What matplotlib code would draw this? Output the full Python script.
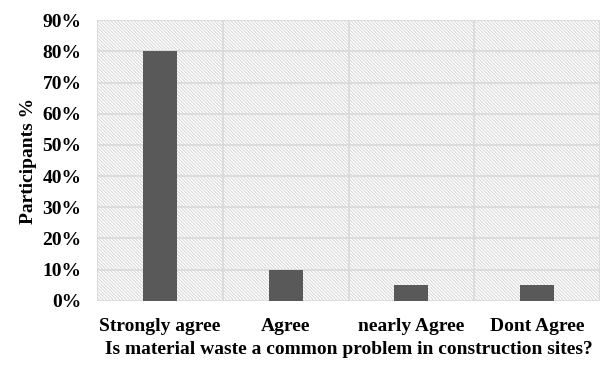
import matplotlib
matplotlib.use("Agg")
import matplotlib.pyplot as plt
from matplotlib.patches import Rectangle
import numpy as np

categories = ["Strongly agree", "Agree", "nearly Agree", "Dont Agree"]
values = [80, 10, 5, 5]
yticks = [0, 10, 20, 30, 40, 50, 60, 70, 80, 90]

plt.rcParams['font.family'] = ['Liberation Serif', 'DejaVu Serif']
plt.rcParams['font.weight'] = 'bold'
plt.rcParams['hatch.linewidth'] = 0.7

fig = plt.figure(figsize=(6.02, 3.66), dpi=100)
ax = fig.add_axes([0.161, 0.178, 0.836, 0.767])

x = np.arange(len(categories))
ax.set_xlim(-0.5, len(categories) - 0.5)
ax.set_ylim(0, 90)

bg = Rectangle((0, 0), 1, 1, transform=ax.transAxes, facecolor='white',
               edgecolor='#d6d6d6', hatch='\\' * 10, lw=0, zorder=0)
ax.add_patch(bg)

for yv in yticks:
    ax.axhline(yv, color='#d9d9d9', lw=1.2, zorder=1)
for b in np.arange(-0.5, len(categories), 1.0):
    ax.axvline(b, color='#d9d9d9', lw=1.2, zorder=1)

ax.bar(x, values, width=0.27, color='#595959', zorder=2)

fs = 14
ax.set_xticks(x)
ax.set_xticklabels(categories, fontsize=fs, fontweight='bold')
ax.set_yticks(yticks)
ax.set_yticklabels([f"{v}%" for v in yticks], fontsize=fs, fontweight='bold')
ax.tick_params(axis='y', length=0, pad=11)
ax.tick_params(axis='x', length=0, pad=12)
for s in ax.spines.values():
    s.set_visible(False)

ax.set_xlabel("Is material waste a common problem in construction sites?",
              fontsize=fs, fontweight='bold', labelpad=5)
ax.set_ylabel("Participants %", fontsize=fs, fontweight='bold', labelpad=4)

fig.savefig("out.png", dpi=100)
